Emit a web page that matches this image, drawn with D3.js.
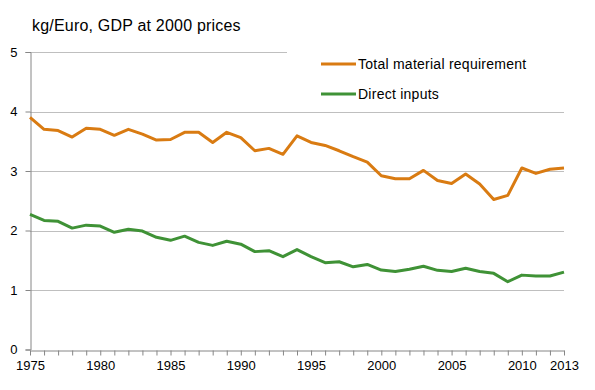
<!DOCTYPE html>
<html>
<head>
<meta charset="utf-8">
<script src="https://cdn.jsdelivr.net/npm/d3@7"></script>
<style>
  html, body { margin: 0; padding: 0; background: #fff; }
  text { font-family: "Liberation Sans", Arial, sans-serif; fill: #000; }
</style>
</head>
<body>
<div id="chart"></div>
<script>
const years = d3.range(1975, 2014);
const totalMaterial = [3.90, 3.70, 3.68, 3.57, 3.72, 3.70, 3.60, 3.70, 3.62, 3.52,
  3.53, 3.65, 3.65, 3.48, 3.65, 3.56, 3.34, 3.38, 3.28, 3.59,
  3.48, 3.43, 3.34, 3.24, 3.15, 2.92, 2.87, 2.87, 3.01, 2.84,
  2.79, 2.95, 2.78, 2.52, 2.59, 3.05, 2.96, 3.03, 3.05];
const directInputs = [2.27, 2.17, 2.155, 2.04, 2.09, 2.075, 1.97, 2.02, 1.99, 1.885,
  1.835, 1.905, 1.80, 1.75, 1.82, 1.77, 1.645, 1.66, 1.56, 1.68,
  1.56, 1.46, 1.475, 1.39, 1.43, 1.335, 1.31, 1.35, 1.40, 1.33,
  1.31, 1.365, 1.31, 1.28, 1.14, 1.25, 1.235, 1.235, 1.30];
const xTickLabels = [1975, 1980, 1985, 1990, 1995, 2000, 2005, 2010, 2013];
const yTicks = [0, 1, 2, 3, 4, 5];
const seriesNames = ["Total material requirement", "Direct inputs"];
const seriesColors = ["#d97b12", "#3f9236"];
const yTitle = "kg/Euro, GDP at 2000 prices";

const W = 595, H = 390;
const svg = d3.select("#chart").append("svg").attr("width", W).attr("height", H);

const x = d3.scaleLinear().domain([1975, 2013]).range([30, 564]);
const y = d3.scaleLinear().domain([0, 5]).range([349.5, 52]);

// gridlines
svg.append("g").selectAll("line").data(yTicks.filter(d => d > 0)).join("line")
  .attr("x1", x(1975)).attr("x2", x(2013))
  .attr("y1", d => Math.round(y(d)) + 0.5).attr("y2", d => Math.round(y(d)) + 0.5)
  .attr("stroke", "#bfbfbf").attr("stroke-width", 1);

// y axis
const yAxis = d3.axisLeft(y).tickValues(yTicks).tickSize(5).tickPadding(8).tickFormat(d3.format("d"));
const gy = svg.append("g").attr("transform", "translate(30.5,0)").call(yAxis);
gy.select(".domain").attr("stroke", "#868686");
gy.selectAll(".tick line").attr("stroke", "#868686");
gy.selectAll(".tick text").style("font-size", "13px").style("font-family", "Liberation Sans, Arial, sans-serif").attr("fill", "#000");

// x axis
const xAxis = d3.axisBottom(x).tickValues(years).tickSize(5).tickSizeOuter(0).tickPadding(5)
  .tickFormat(d => xTickLabels.includes(d) ? d : "");
const gx = svg.append("g").attr("transform", "translate(0," + (Math.round(y(0)) + 0.5) + ")").call(xAxis);
gx.select(".domain").attr("stroke", "#868686");
gx.selectAll(".tick line").attr("stroke", "#868686");
gx.selectAll(".tick text").style("font-size", "13px").style("font-family", "Liberation Sans, Arial, sans-serif").attr("fill", "#000");

// lines
const line = d3.line().x((d, i) => x(years[i])).y(d => y(d));
[totalMaterial, directInputs].forEach((s, k) => {
  svg.append("path").datum(s).attr("d", line)
    .attr("fill", "none").attr("stroke", seriesColors[k])
    .attr("stroke-width", 3).attr("stroke-linejoin", "round");
});

// legend background (covers top gridline)
svg.append("rect").attr("x", 287).attr("y", 45).attr("width", 285).attr("height", 58).attr("fill", "#fff");
const legend = svg.append("g");
seriesNames.forEach((n, k) => {
  const ly = 64 + k * 30;
  legend.append("line").attr("x1", 321).attr("x2", 356).attr("y1", ly).attr("y2", ly)
    .attr("stroke", seriesColors[k]).attr("stroke-width", 3);
  legend.append("text").attr("x", 358).attr("y", ly).attr("dy", "0.35em")
    .style("font-size", "14px").style("letter-spacing", "0.25px").text(n);
});

// title
svg.append("text").attr("x", 32).attr("y", 31).style("font-size", "16px").style("letter-spacing", "0.2px").text(yTitle);
</script>
</body>
</html>
